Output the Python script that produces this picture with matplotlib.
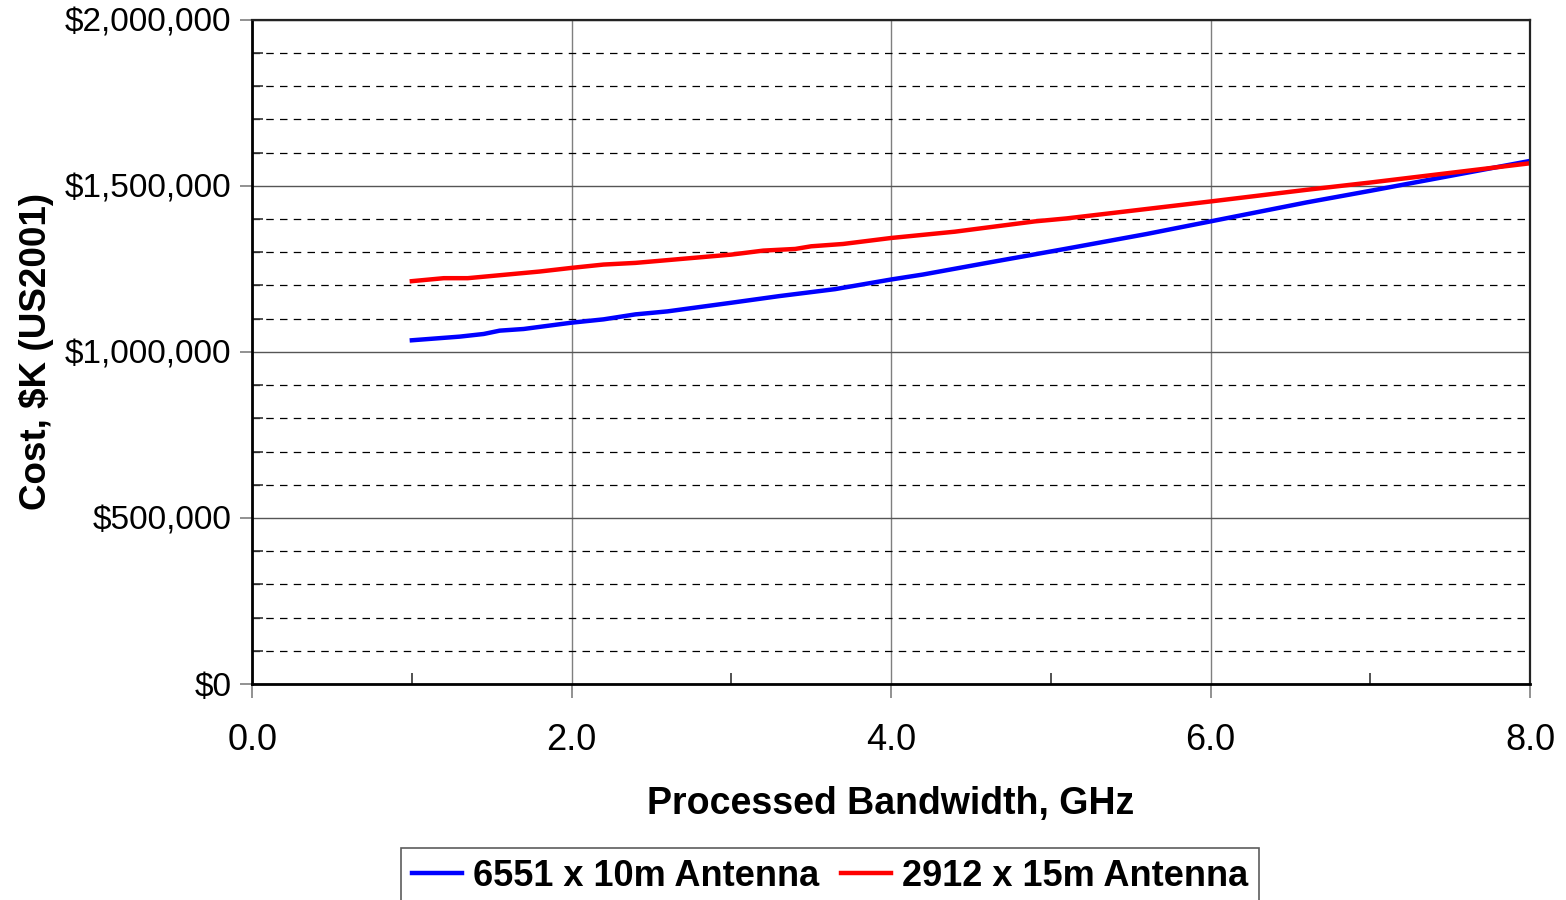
import matplotlib
matplotlib.use("Agg")
import matplotlib.pyplot as plt
from matplotlib.ticker import FuncFormatter, MultipleLocator

# data (GHz vs cost)
bw_10m = [1.0, 1.3, 1.45, 1.55, 1.7, 2.0, 2.2, 2.4, 2.6, 3.0, 3.3, 3.65,
          4.0, 4.2, 4.6, 5.1, 5.6, 6.0, 6.6, 7.0, 7.5, 8.0]
cost_10m = [1035000, 1046000, 1054000, 1064000, 1069000, 1088000, 1098000,
            1113000, 1122000, 1148000, 1168000, 1189000, 1218000, 1233000,
            1268000, 1311000, 1355000, 1393000, 1450000, 1485000, 1530000,
            1575000]

bw_15m = [1.0, 1.2, 1.35, 1.8, 2.0, 2.2, 2.4, 3.0, 3.2, 3.4, 3.5, 3.7,
          4.0, 4.4, 4.9, 5.1, 6.0, 6.6, 7.0, 8.0]
cost_15m = [1213000, 1222000, 1222000, 1242000, 1253000, 1263000, 1268000,
            1293000, 1305000, 1310000, 1318000, 1325000, 1343000, 1362000,
            1393000, 1402000, 1453000, 1488000, 1510000, 1568000]

labels = ["6551 x 10m Antenna", "2912 x 15m Antenna"]

plt.rcParams['font.family'] = ['Liberation Sans', 'DejaVu Sans']

fig = plt.figure(figsize=(15.66, 9), dpi=100)
ax = fig.add_axes([0.161, 0.24, 0.816, 0.738])

ax.plot(bw_10m, cost_10m, color='#0000ff', lw=3.2, label=labels[0])
ax.plot(bw_15m, cost_15m, color='#ff0000', lw=3.2, label=labels[1])

ax.set_xlim(0, 8)
ax.set_ylim(0, 2000000)

# grid: solid verticals, solid major horizontals, dashed minor horizontals
ax.xaxis.set_major_locator(MultipleLocator(2))
ax.xaxis.set_minor_locator(MultipleLocator(1))
ax.yaxis.set_major_locator(MultipleLocator(500000))
ax.yaxis.set_minor_locator(MultipleLocator(100000))
ax.grid(which='major', axis='x', color='#7f7f7f', lw=1.0)
ax.grid(which='major', axis='y', color='#555555', lw=1.0)
ax.grid(which='minor', axis='y', color='black', lw=0.9, ls=(0, (6, 5)))
ax.set_axisbelow(True)

ax.xaxis.set_major_formatter(FuncFormatter(lambda v, p: "%.1f" % v))
ax.yaxis.set_major_formatter(FuncFormatter(lambda v, p: "${:,.0f}".format(v)))

ax.tick_params(axis='x', which='major', direction='out', length=10, width=1.2,
               color='#7f7f7f', labelsize=26, pad=18)
ax.tick_params(axis='x', which='minor', direction='in', length=8, width=1.2,
               color='#333333')
ax.tick_params(axis='y', which='major', direction='out', length=9, width=1.2,
               color='#7f7f7f', labelsize=24, pad=6)
ax.tick_params(axis='y', which='minor', direction='in', length=8, width=1.2,
               color='#333333')

for side in ['left', 'bottom']:
    ax.spines[side].set_linewidth(2)
    ax.spines[side].set_color('black')
for side in ['top', 'right']:
    ax.spines[side].set_linewidth(1.6)
    ax.spines[side].set_color('#222222')

ax.set_xlabel("Processed Bandwidth, GHz", fontsize=27, fontweight='bold',
              labelpad=20)
ax.set_ylabel("Cost, $K (US2001)", fontsize=26.5, fontweight='bold',
              labelpad=8)

leg = fig.legend(loc='upper center', bbox_to_anchor=(0.53, 0.058),
                 bbox_transform=fig.transFigure, ncol=2, frameon=True,
                 fancybox=False, handlelength=1.4, handletextpad=0.3,
                 columnspacing=0.6, borderpad=0.3, borderaxespad=0,
                 prop={'family': ['Liberation Sans Narrow', 'Liberation Sans'],
                       'weight': 'bold', 'size': 26})
leg.get_frame().set_edgecolor('#333333')
leg.get_frame().set_linewidth(1.2)

fig.savefig("out.png", dpi=100)
